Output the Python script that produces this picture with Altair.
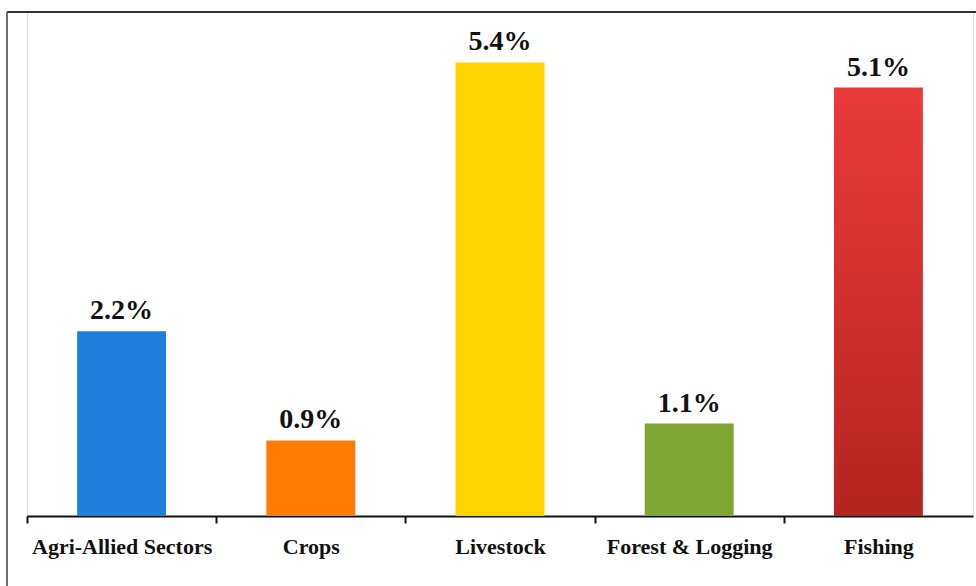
import altair as alt
import pandas as pd

categories = ["Agri-Allied Sectors", "Crops", "Livestock", "Forest & Logging", "Fishing"]
values = [2.2, 0.9, 5.4, 1.1, 5.1]
labels = ["2.2%", "0.9%", "5.4%", "1.1%", "5.1%"]
colors = ["#1E80DC", "#FF7B05", "#FFD500", "#80A634", "#D8322E"]
red_top, red_bottom = "#E93B3A", "#B42520"

df = pd.DataFrame({"cat": categories, "val": values, "label": labels})
FONT = "Liberation Serif"
W, H = 946, 504
step = W / len(categories)

x = alt.X("cat:N", sort=categories, title=None,
          scale=alt.Scale(paddingInner=0, paddingOuter=0),
          axis=alt.Axis(labelAngle=0, labelFont=FONT, labelFontSize=22,
                        labelFontWeight="bold", labelColor="#111", labelLimit=0,
                        labelPadding=13, tickSize=7, tickWidth=2, tickColor="#111",
                        tickOffset=-step / 2, labelOffset=step / 2,
                        domainColor="#111", domainWidth=2, grid=False))
y = alt.Y("val:Q", scale=alt.Scale(domain=[0, 6]), axis=None)

red_grad = alt.LinearGradient(
    gradient="linear", x1=0, y1=0, x2=0, y2=1,
    stops=[alt.GradientStop(offset=0, color=red_top),
           alt.GradientStop(offset=1, color=red_bottom)])

base = alt.Chart(df)
bars = base.mark_bar(width=alt.RelativeBandSize(0.47)).encode(
    x=x, y=y,
    color=alt.condition(
        alt.datum.cat == "Fishing", alt.value(red_grad),
        alt.Color("cat:N", sort=categories,
                  scale=alt.Scale(domain=categories, range=colors), legend=None)),
)
text = base.mark_text(font=FONT, fontSize=28, fontWeight="bold", color="#111",
                      baseline="alphabetic", dy=-12).encode(
    x=alt.X("cat:N", sort=categories), y=y, text="label:N")

frame = pd.DataFrame({"k": [0]})
top_line = alt.Chart(frame).mark_rule(color="#333333", strokeWidth=2).encode(
    x=alt.value(-20), x2=alt.value(960), y=alt.value(0))
left_line = alt.Chart(frame).mark_rule(color="#707070", strokeWidth=2).encode(
    x=alt.value(-20), y=alt.value(0), y2=alt.value(600))

chart = alt.layer(bars, text, top_line, left_line).properties(
    width=W, height=H,
    autosize=alt.AutoSizeParams(type="none"),
    padding={"left": 27, "top": 12, "right": 3, "bottom": 70},
).configure_view(stroke=None).configure(background="white")

chart.save("out.html", embed_options={"renderer": "svg", "actions": False})
